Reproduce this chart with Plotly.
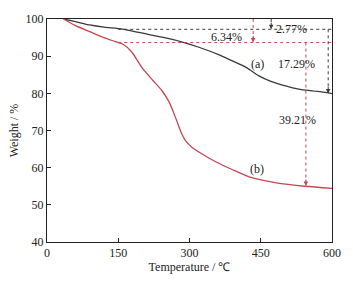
import plotly.graph_objects as go

# Data
temp_a = [35, 60, 90, 120, 159, 215, 250, 285, 320, 360, 389, 420, 446, 470, 494, 536, 570, 600]
weight_a = [100, 99.3, 98.4, 97.8, 97.3, 95.8, 94.9, 93.8, 92.4, 90.5, 88.8, 86.9, 84.7, 83.3, 82.3, 81.0, 80.5, 79.94]

temp_b = [35, 60, 90, 120, 142, 160, 178, 200, 222, 241, 257, 272, 282, 292, 305, 330, 355, 390, 431, 480, 543, 600]
weight_b = [100, 98.2, 96.6, 95.0, 94.0, 93.2, 91.2, 86.9, 83.6, 80.9, 77.7, 73.0, 69.6, 67.2, 65.5, 63.4, 61.6, 59.5, 57.3, 56.0, 55.0, 54.45]

loss_a1, loss_a2 = 2.77, 17.29
loss_b1, loss_b2 = 6.34, 39.21
x_ticks = [0, 150, 300, 450, 600]
y_ticks = [40, 50, 60, 70, 80, 90, 100]

BLACK = "#3a3a3a"
RED = "#c8464f"
FONT = "Liberation Serif"

lvl_a = 100 - loss_a1
lvl_b = 100 - loss_b1
end_a = lvl_a - loss_a2
end_b = lvl_b - loss_b2

fig = go.Figure()
fig.add_trace(go.Scatter(x=temp_a, y=weight_a, mode="lines", line=dict(color=BLACK, width=1.3, shape="spline", smoothing=0.7), showlegend=False, hoverinfo="skip"))
fig.add_trace(go.Scatter(x=temp_b, y=weight_b, mode="lines", line=dict(color=RED, width=1.3, shape="spline", smoothing=0.7), showlegend=False, hoverinfo="skip"))

def dash(x0, y0, x1, y1, color):
    fig.add_shape(type="line", x0=x0, y0=y0, x1=x1, y1=y1, xref="x", yref="y",
                  line=dict(color=color, width=1, dash="3px,3px"))

def head(x, y, color):
    fig.add_annotation(x=x, y=y, ax=x, ay=y + 2.2, xref="x", yref="y", axref="x", ayref="y",
                       showarrow=True, arrowhead=2, arrowsize=0.9, arrowwidth=1, arrowcolor=color, text="")

# horizontal levels
dash(150, lvl_a, 600, lvl_a, BLACK)
dash(150, lvl_b, 600, lvl_b, RED)
# small top arrows
dash(472, 100, 472, lvl_a + 0.3, BLACK)
head(472, lvl_a, BLACK)
dash(434, 100, 434, lvl_b + 0.3, RED)
head(434, lvl_b, RED)
# long arrows
dash(592, lvl_a, 592, end_a + 0.5, BLACK)
head(592, end_a, BLACK)
dash(545, lvl_b, 545, end_b + 1.3, RED)
head(545, end_b + 0.6, RED)

labels = [
    (515, lvl_a, f"{loss_a1:.2f}%"),
    (378, 95.2, f"{loss_b1:.2f}%"),
    (443, 88.0, "(a)"),
    (525, 88.0, f"{loss_a2:.2f}%"),
    (528, 72.9, f"{loss_b2:.2f}%"),
    (443, 59.6, "(b)"),
]
for x, y, t in labels:
    fig.add_annotation(x=x, y=y, text=t, showarrow=False, xref="x", yref="y",
                       font=dict(family=FONT, size=12, color="#222"), bgcolor="rgba(0,0,0,0)")

axis_common = dict(showline=True, linecolor="#222", linewidth=1, mirror=True, ticks="inside",
                   ticklen=4, tickcolor="#222", showgrid=False, zeroline=False,
                   tickfont=dict(family=FONT, size=12, color="#222"))
fig.update_xaxes(range=[0, 600], tickvals=x_ticks, title=dict(text="Temperature / ℃", font=dict(family=FONT, size=12, color="#222"), standoff=2), **axis_common)
fig.update_yaxes(range=[40, 100], tickvals=y_ticks, title=dict(text="Weight / %", font=dict(family=FONT, size=12, color="#222"), standoff=4), **axis_common)

fig.update_layout(width=353, height=283, margin=dict(l=47, r=19, t=14, b=38),
                  paper_bgcolor="white", plot_bgcolor="white", showlegend=False)
fig.write_html("out.html", config={"displayModeBar": False},
               post_script="document.body.style.margin='0';")
